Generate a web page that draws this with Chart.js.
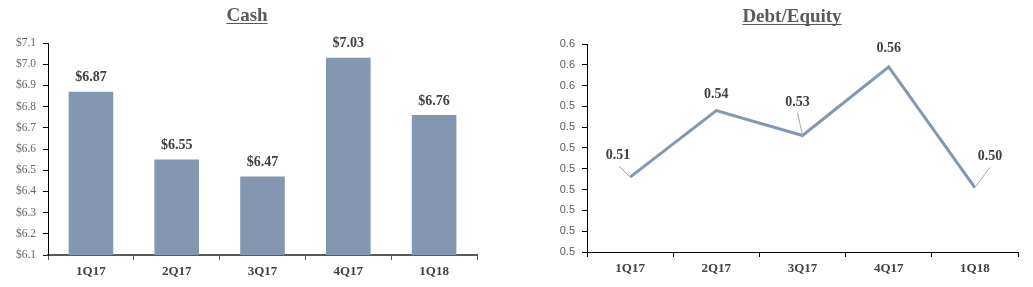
<!DOCTYPE html>
<html>
<head>
<meta charset="utf-8">
<script src="https://cdn.jsdelivr.net/npm/chart.js@4"></script>
<style>
    body { margin: 0; background: #fff; width: 1033px; height: 287px; overflow: hidden; position: relative; }
    .box { position: absolute; top: 0; height: 287px; }
</style>
</head>
<body>
<div class="box" style="left:0;width:500px"><canvas id="cash-chart"></canvas></div>
<div class="box" style="left:520px;width:513px"><canvas id="de-chart"></canvas></div>
<script>
const quarters = ["1Q17", "2Q17", "3Q17", "4Q17", "1Q18"];
const cashValues = [6.87, 6.55, 6.47, 7.03, 6.76];
const debtEquityValues = [0.506, 0.538, 0.526, 0.559, 0.501];

const serif = "'Liberation Serif', 'DejaVu Serif', serif";
const sans = "'Liberation Sans', Arial, sans-serif";
const barColor = "#8497B0";

// title with underline, drawn by hand
const titlePlugin = {
    id: "underlinedTitle",
    afterDraw(chart, args, opts) {
        const ctx = chart.ctx;
        ctx.save();
        ctx.font = "bold 19px " + serif;
        ctx.fillStyle = "#595959";
        ctx.textAlign = "center";
        ctx.textBaseline = "middle";
        ctx.fillText(opts.text, opts.x, opts.y);
        let w = ctx.measureText(opts.text).width;
        ctx.fillRect(opts.x - w / 2, opts.y + 7, w, 1);
        ctx.restore();
    },
};

// value labels above bars / points, with optional leader lines
const valueLabels = {
    id: "valueLabels",
    afterDatasetsDraw(chart, args, opts) {
        const ctx = chart.ctx;
        const meta = chart.getDatasetMeta(0);
        const data = chart.data.datasets[0].data;
        ctx.save();
        ctx.font = "bold 14px " + serif;
        ctx.fillStyle = "#404040";
        ctx.textAlign = "center";
        ctx.textBaseline = "middle";
        meta.data.forEach((el, i) => {
            let off = opts.offsets[i];
            let lx = el.x + off[0];
            let ly = el.y + off[1];
            if (off.length > 2) {
                ctx.strokeStyle = "#a6a6a6";
                ctx.lineWidth = 1;
                ctx.beginPath();
                ctx.moveTo(lx + off[2], ly + off[3]);
                ctx.lineTo(el.x, el.y);
                ctx.stroke();
            }
            ctx.fillText(opts.format(data[i]), lx, ly);
        });
        ctx.restore();
    },
};

new Chart(document.getElementById("cash-chart"), {
    type: "bar",
    data: {
        labels: quarters,
        datasets: [
            {
                data: cashValues,
                backgroundColor: barColor,
                categoryPercentage: 1.0,
                barPercentage: 0.52,
            },
        ],
    },
    plugins: [titlePlugin, valueLabels],
    options: {
        responsive: true,
        maintainAspectRatio: false,
        animation: false,
        layout: { padding: { top: 43, right: 23, left: 0, bottom: 0 } },
        plugins: {
            legend: { display: false },
            tooltip: { enabled: false },
            underlinedTitle: { text: "Cash", x: 247, y: 16 },
            valueLabels: {
                offsets: [[0, -14], [0, -14], [0, -14], [0, -14], [0, -14]],
                format: (v) => "$" + v.toFixed(2),
            },
        },
        scales: {
            x: {
                afterFit: (s) => { s.height = 32; },
                grid: { display: true, drawOnChartArea: false, offset: true, tickLength: 5, color: "#595959" },
                border: { color: "#595959", width: 2 },
                ticks: { color: "#404040", padding: 4, font: { family: serif, size: 13, weight: "bold" } },
            },
            y: {
                min: 6.1,
                max: 7.1,
                afterFit: (s) => { s.width = 48; },
                grid: { display: true, drawOnChartArea: false, tickLength: 5, color: "#000" },
                border: { color: "#000", width: 1 },
                ticks: {
                    stepSize: 0.1,
                    padding: 7,
                    color: "#666666",
                    font: { family: serif, size: 11.5 },
                    callback: (v) => "$" + v.toFixed(1),
                },
            },
        },
    },
});

new Chart(document.getElementById("de-chart"), {
    type: "line",
    data: {
        labels: quarters,
        datasets: [
            {
                data: debtEquityValues,
                borderColor: barColor,
                borderWidth: 3,
                pointRadius: 0,
                tension: 0,
                fill: false,
            },
        ],
    },
    plugins: [titlePlugin, valueLabels],
    options: {
        responsive: true,
        maintainAspectRatio: false,
        animation: false,
        layout: { padding: { top: 44, right: 15, left: 0, bottom: 0 } },
        plugins: {
            legend: { display: false },
            tooltip: { enabled: false },
            underlinedTitle: { text: "Debt/Equity", x: 272, y: 17 },
            valueLabels: {
                offsets: [[-12, -22, 1, 11], [0, -16], [-5, -33, 0, 10], [0, -18], [15, -31, 0, 11]],
                format: (v) => v.toFixed(2),
            },
        },
        scales: {
            x: {
                offset: true,
                afterFit: (s) => { s.height = 35; },
                grid: { display: true, drawOnChartArea: false, offset: true, tickLength: 5, color: "#000" },
                border: { color: "#000", width: 1 },
                ticks: { color: "#404040", padding: 4, font: { family: serif, size: 13, weight: "bold" } },
            },
            y: {
                min: 0.47,
                max: 0.57,
                afterFit: (s) => { s.width = 67; },
                grid: { display: true, drawOnChartArea: false, tickLength: 5, color: "#000" },
                border: { color: "#000", width: 1 },
                ticks: {
                    stepSize: 0.01,
                    padding: 7,
                    color: "#595959",
                    font: { family: sans, size: 11 },
                    callback: (v) => (Math.round(v * 100) / 100).toFixed(1),
                },
            },
        },
    },
});
</script>
</body>
</html>
